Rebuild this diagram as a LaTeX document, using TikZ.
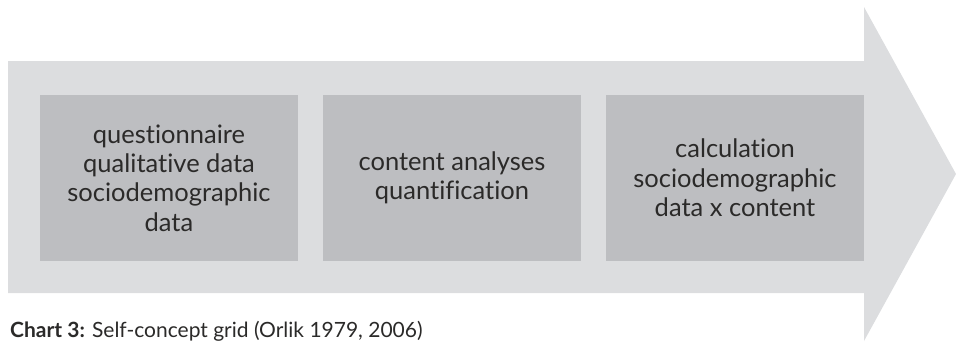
\documentclass[tikz,border=0pt]{standalone}
\usepackage{fontspec}
\setmainfont[Ligatures={NoCommon}]{Lato}
\begin{document}
\begin{tikzpicture}[x=1pt,y=-1pt,
  arrowfill/.style={fill=arrowgrey},
  stagebox/.style={fill=boxgrey, minimum width=258pt, minimum height=166pt,
    inner sep=0pt, align=center, text=textdark,
    font=\fontsize{25.5}{29.3}\selectfont},
  caption/.style={anchor=base west, inner sep=0pt, text=textdark,
    font=\fontsize{21}{25}\selectfont}]
\definecolor{arrowgrey}{HTML}{DCDDDF}
\definecolor{boxgrey}{HTML}{BDBEC1}
\definecolor{textdark}{HTML}{2B2A29}
\useasboundingbox (0,0) rectangle (956,341);
\clip (0,0) rectangle (956,341);
% big process arrow
\fill[arrowfill] (8,61) -- (864,61) -- (864,7) -- (956,174) -- (864,341)
  -- (864,293) -- (8,293) -- cycle;
% three stages
\node[stagebox] (s1) at (169,178) {questionnaire\\qualitative data\\sociodemographic\\data};
\node[stagebox] (s2) at (452,178) {content analyses\\quantification};
\node[stagebox] (s3) at (735,178) {calculation\\sociodemographic\\data x content};
% caption
\node[caption] (cap) at (10,337) {\textbf{Chart 3:} Self-concept grid (Orlik 1979, 2006)};
\end{tikzpicture}
\end{document}
